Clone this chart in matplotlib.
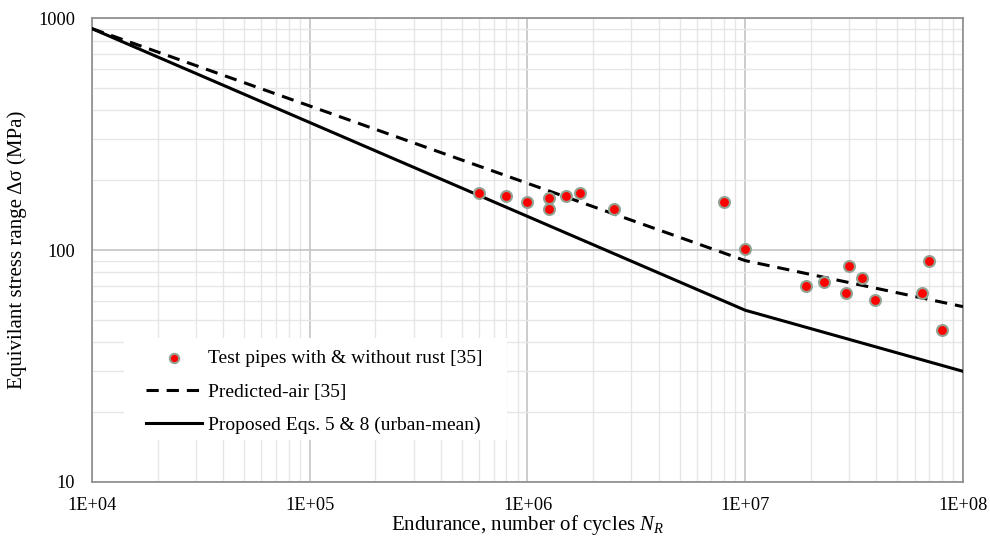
import matplotlib
matplotlib.use("Agg")
import matplotlib.pyplot as plt
from matplotlib.ticker import FixedLocator, NullFormatter, LogLocator
from matplotlib.patches import Rectangle
import numpy as np

# Test data (cycles, stress range MPa)
test_N = [6.0e5, 8.0e5, 1.0e6, 1.25e6, 1.25e6, 1.5e6, 1.75e6, 2.5e6, 8.0e6, 1.0e7,
          1.9e7, 2.3e7, 3.0e7, 2.9e7, 3.45e7, 3.95e7, 6.5e7, 7.0e7, 8.0e7]
test_S = [176, 171, 161, 167, 150, 171, 176, 150, 161, 101,
          70, 73, 85, 65, 76, 61, 65, 90, 45]

# Predicted-air line
pred_N = [1e4, 1e7, 1e8]
pred_S = [900, 90, 57]

# Proposed Eqs. 5 & 8 line
prop_N = [1e4, 1e7, 1e8]
prop_S = [900, 55, 30]

x_ticks = [1e4, 1e5, 1e6, 1e7, 1e8]
x_tick_labels = ["1E+04", "1E+05", "1E+06", "1E+07", "1E+08"]
y_ticks = [10, 100, 1000]
y_tick_labels = ["10", "100", "1000"]

plt.rcParams['font.family'] = ['Liberation Serif', 'DejaVu Serif']
plt.rcParams['mathtext.fontset'] = 'custom'
plt.rcParams['mathtext.it'] = 'Liberation Serif:italic'
plt.rcParams['mathtext.rm'] = 'Liberation Serif'

fig = plt.figure(figsize=(9.9, 5.38), dpi=100)
ax = fig.add_axes([0.0929, 0.1041, 0.8798, 0.8624])
ax.set_xscale('log')
ax.set_yscale('log')
ax.set_xlim(1e4, 1e8)
ax.set_ylim(10, 1000)

ax.xaxis.set_major_locator(FixedLocator(x_ticks))
ax.set_xticklabels(x_tick_labels)
ax.yaxis.set_major_locator(FixedLocator(y_ticks))
ax.set_yticklabels(y_tick_labels)
ax.xaxis.set_minor_locator(LogLocator(base=10, subs=np.arange(2, 10)))
ax.yaxis.set_minor_locator(LogLocator(base=10, subs=np.arange(2, 10)))
ax.xaxis.set_minor_formatter(NullFormatter())
ax.yaxis.set_minor_formatter(NullFormatter())

ax.grid(True, which='major', color='#c4c4c4', linewidth=1.2)
ax.grid(True, which='minor', color='#e6e6e6', linewidth=1.0)
ax.set_axisbelow(True)
ax.tick_params(which='both', length=0, labelsize=13.2, colors='black')
ax.tick_params(axis='x', pad=11)
ax.tick_params(axis='y', pad=12)
for s in ax.spines.values():
    s.set_color('#8c8c8c')
    s.set_linewidth(1.2)

ax.plot(prop_N, prop_S, color='black', linewidth=2.2, label='Proposed Eqs. 5 & 8 (urban-mean)', zorder=3)
ax.plot(pred_N, pred_S, color='black', linewidth=2.2, linestyle=(0, (4, 2.6)), label='Predicted-air [35]', zorder=3)
ax.scatter(test_N, test_S, s=62, color='#ff0000', edgecolors='#93a393', linewidths=1.5,
           label='Test pipes with & without rust [35]', zorder=4)

# white legend background box
ax.add_patch(Rectangle((0.0367, 0.0905), 0.4398, 0.2198, transform=ax.transAxes,
                       facecolor='white', edgecolor='none', zorder=2))

handles, labels = ax.get_legend_handles_labels()
order = [2, 1, 0]
leg = ax.legend([handles[i] for i in order], [labels[i] for i in order],
                loc='upper left', bbox_to_anchor=(0.062, 0.285), frameon=False,
                fontsize=14, handlelength=2.9, handletextpad=0.3,
                labelspacing=0.8, borderpad=0.0, borderaxespad=0.0,
                markerscale=0.85)
leg.set_zorder(5)

ax.set_xlabel('Endurance, number of cycles $N_R$', fontsize=15, labelpad=-1)
ax.set_ylabel('Equivilant stress range Δσ (MPa)', fontsize=15, labelpad=8)

fig.savefig('out.png', dpi=100)
